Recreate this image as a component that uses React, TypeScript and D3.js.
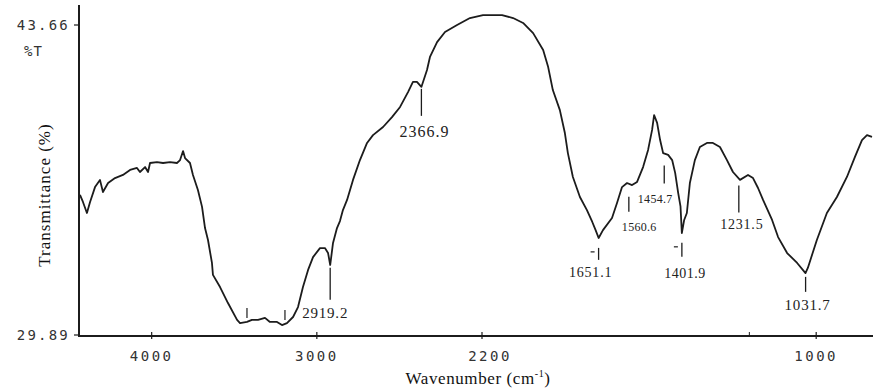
import React from "react";
import * as d3 from "d3";

// ---- data ----
const wavenumbers = [
  4434, 4416, 4392, 4373, 4343, 4313, 4295, 4264, 4222, 4174, 4131, 4089, 4071, 4040, 4022, 4010,
  3968, 3931, 3889, 3847, 3828, 3810, 3798, 3768, 3750, 3720, 3695, 3677, 3659, 3635, 3629, 3586,
  3538, 3483, 3465, 3423, 3393, 3356, 3314, 3284, 3241, 3211, 3181, 3144, 3114, 3084, 3053, 3023,
  2981, 2951, 2932, 2919, 2902, 2878, 2860, 2842, 2817, 2781, 2739, 2696, 2660, 2599, 2545, 2496,
  2448, 2418, 2394, 2367, 2357, 2333, 2315, 2272, 2224, 2151, 2073, 1997, 1940, 1907, 1877, 1847,
  1817, 1802, 1788, 1767, 1752, 1743, 1728, 1707, 1686, 1670, 1660, 1651, 1638, 1611, 1596, 1581,
  1566, 1551, 1536, 1518, 1503, 1491, 1485, 1476, 1467, 1458, 1443, 1431, 1422, 1413, 1406, 1402,
  1395, 1387, 1378, 1363, 1348, 1327, 1309, 1288, 1267, 1249, 1228, 1204, 1189, 1174, 1159, 1132,
  1114, 1087, 1057, 1032, 1025, 998, 968, 938, 908, 884, 863, 848, 833,
];
const transmittance = [
  36.11, 35.8, 35.31, 35.8, 36.46, 36.78, 36.24, 36.64, 36.86, 37.0, 37.22, 37.31, 37.13, 37.35, 37.13, 37.53,
  37.57, 37.53, 37.57, 37.53, 37.66, 38.06, 37.75, 37.53, 37.0, 36.33, 35.58, 34.64, 34.11, 33.09, 32.56, 32.02,
  31.31, 30.56, 30.42, 30.47, 30.56, 30.56, 30.65, 30.47, 30.47, 30.33, 30.42, 30.69, 31.13, 32.02, 32.78, 33.35,
  33.75, 33.75, 33.53, 33.0, 33.98, 34.64, 34.95, 35.44, 35.89, 36.78, 37.66, 38.42, 38.77, 39.13, 39.57, 40.02,
  40.68, 41.13, 41.13, 40.91, 41.13, 41.66, 42.24, 42.9, 43.35, 43.66, 43.97, 44.1, 44.1, 43.97, 43.75, 43.3,
  42.55, 41.79, 40.77, 39.88, 38.86, 37.97, 36.91, 36.02, 35.44, 34.91, 34.55, 34.2, 34.55, 35.09, 35.75, 36.46,
  36.64, 36.55, 36.69, 37.35, 38.11, 39.0, 39.66, 39.31, 38.55, 37.97, 37.89, 37.66, 37.09, 36.2, 35.6, 34.42,
  35.0, 35.31, 36.64, 37.66, 38.24, 38.42, 38.42, 38.24, 37.66, 37.13, 36.78, 37.0, 36.86, 36.42, 35.89, 35.0,
  34.24, 33.53, 33.09, 32.64, 32.87, 34.11, 35.31, 36.02, 36.91, 37.8, 38.55, 38.77, 38.69,
];

const xTickValues = [4000, 3000, 2000, 1000];
const xTickLabels = ["4000", "3000", "2200", "1000"];
const minorXTicks = [1200];
const yTickValues = [43.66, 29.89];
const yTickLabels = ["43.66", "29.89"];

const peakWavenumbers = [2919.2, 2366.9, 1651.1, 1560.6, 1454.7, 1401.9, 1231.5, 1031.7];
const peakLabels = ["2919.2", "2366.9", "1651.1", "1560.6", "1454.7", "1401.9", "1231.5", "1031.7"];
const unlabeledPeaks = [3423, 3193];

// ---- layout / styles ----
const W = 873;
const H = 389;
const AX_X = 79;
const AX_Y = 336;
const TOP = 5;

const peakStyle: Record<string, { gap: number; len: number; dx: number; dy: number; fs: number; ls: number; anchor: string; dash?: boolean }> = {
  "2919.2": { gap: 3, len: 32, dx: -28, dy: 53, fs: 15, ls: 0.8, anchor: "start" },
  "2366.9": { gap: 2, len: 27, dx: 3, dy: 50, fs: 16, ls: 1, anchor: "middle" },
  "1651.1": { gap: 10, len: 12, dx: -8, dy: 39, fs: 14, ls: 0.8, anchor: "middle", dash: true },
  "1560.6": { gap: 13, len: 15, dx: -7, dy: 47, fs: 12, ls: 0.3, anchor: "start" },
  "1454.7": { gap: 12, len: 18, dx: -9, dy: 50, fs: 12, ls: 0.3, anchor: "middle" },
  "1401.9": { gap: 10, len: 14, dx: 3, dy: 45, fs: 14, ls: 0.5, anchor: "middle", dash: true },
  "1231.5": { gap: 7, len: 27, dx: 3, dy: 50, fs: 14, ls: 0.8, anchor: "middle" },
  "1031.7": { gap: 4, len: 15, dx: 2, dy: 37, fs: 15, ls: 0.8, anchor: "middle" },
};

const INK = "#1c1c1c";
const SERIF = "'Liberation Serif', 'DejaVu Serif', serif";
const MONO = "'DejaVu Sans Mono', 'Liberation Mono', monospace";

export default function App() {
  const x = d3.scaleLinear().domain([4440, 2000, 830]).range([AX_X, 482, W]);
  const y = d3.scaleLinear().domain([29.89, 43.66]).range([335, 25]);

  const pts: [number, number][] = wavenumbers.map((w, i) => [w, transmittance[i]]);
  const line = d3
    .line<[number, number]>()
    .x((d) => x(d[0]))
    .y((d) => y(d[1]))
    .curve(d3.curveLinear);

  const asc = [...pts].sort((a, b) => a[0] - b[0]);
  const interpT = (w: number) => {
    const i = d3.bisector((d: [number, number]) => d[0]).left(asc, w);
    if (i <= 0) return asc[0][1];
    if (i >= asc.length) return asc[asc.length - 1][1];
    const a = asc[i - 1];
    const b = asc[i];
    const t = (w - a[0]) / (b[0] - a[0]);
    return a[1] + t * (b[1] - a[1]);
  };

  return (
    <svg
      width={W}
      height={H}
      viewBox={`0 0 ${W} ${H}`}
      style={{ position: "absolute", left: 0, top: 0, background: "#fff" }}
    >
      <rect x={0} y={0} width={W} height={H} fill="#fff" />

      {/* axes */}
      <line x1={AX_X} y1={TOP} x2={AX_X} y2={AX_Y + 1} stroke={INK} strokeWidth={2} />
      <line x1={AX_X} y1={AX_Y} x2={W} y2={AX_Y} stroke={INK} strokeWidth={2} />

      {/* y ticks */}
      {yTickValues.map((v, i) => (
        <g key={"yt" + i}>
          <line x1={AX_X - 5} x2={AX_X} y1={y(v)} y2={y(v)} stroke={INK} strokeWidth={1.2} />
          <text
            x={AX_X - 9}
            y={y(v) + 5}
            textAnchor="end"
            fontFamily={MONO}
            fontSize={14}
            letterSpacing={2.2}
            fill="#333"
          >
            {yTickLabels[i]}
          </text>
        </g>
      ))}
      <text x={24} y={56} fontFamily={MONO} fontSize={14} letterSpacing={1} fill="#333">
        %T
      </text>

      {/* x ticks */}
      {xTickValues.map((v, i) => (
        <g key={"xt" + i}>
          <line x1={x(v)} x2={x(v)} y1={AX_Y - 4} y2={AX_Y + 3} stroke={INK} strokeWidth={1.2} />
          <text
            x={x(v) + (i === 2 ? 8 : 0)}
            y={361}
            textAnchor="middle"
            fontFamily={MONO}
            fontSize={14}
            letterSpacing={2.5}
            fill="#333"
          >
            {xTickLabels[i]}
          </text>
        </g>
      ))}
      {minorXTicks.map((v) => (
        <line key={"mx" + v} x1={x(v)} x2={x(v)} y1={AX_Y - 4} y2={AX_Y} stroke={INK} strokeWidth={1} />
      ))}

      {/* axis titles */}
      <text x={478} y={384} textAnchor="middle" fontFamily={SERIF} fontSize={17} letterSpacing={0.6} fill="#111">
        Wavenumber (cm<tspan dy={-7} fontSize={10}>-1</tspan>
        <tspan dy={7}>)</tspan>
      </text>
      <text
        transform={`translate(50, 195) rotate(-90)`}
        textAnchor="middle"
        fontFamily={SERIF}
        fontSize={17}
        letterSpacing={1}
        fill="#111"
      >
        Transmittance (%)
      </text>

      {/* spectrum */}
      <path d={line(pts) || ""} fill="none" stroke={INK} strokeWidth={1.8} strokeLinejoin="round" />

      {/* unlabeled peak marks */}
      {unlabeledPeaks.map((w) => {
        const cx = x(w);
        const cy = y(interpT(w));
        return <line key={"u" + w} x1={cx} x2={cx} y1={cy - 14} y2={cy - 4} stroke={INK} strokeWidth={1.2} />;
      })}

      {/* labeled peaks */}
      {peakWavenumbers.map((w, i) => {
        const lab = peakLabels[i];
        const s = peakStyle[lab];
        const cx = x(w);
        const cy = y(interpT(w));
        return (
          <g key={"p" + lab}>
            <line x1={cx} x2={cx} y1={cy + s.gap} y2={cy + s.gap + s.len} stroke={INK} strokeWidth={1.3} />
            {s.dash && (
              <line
                x1={cx - 8}
                x2={cx - 4}
                y1={cy + s.gap + 4}
                y2={cy + s.gap + 4}
                stroke={INK}
                strokeWidth={1.2}
              />
            )}
            <text
              x={cx + s.dx}
              y={cy + s.dy}
              textAnchor={s.anchor as any}
              fontFamily={SERIF}
              fontSize={s.fs}
              letterSpacing={s.ls}
              fill="#222"
            >
              {lab}
            </text>
          </g>
        );
      })}
    </svg>
  );
}
